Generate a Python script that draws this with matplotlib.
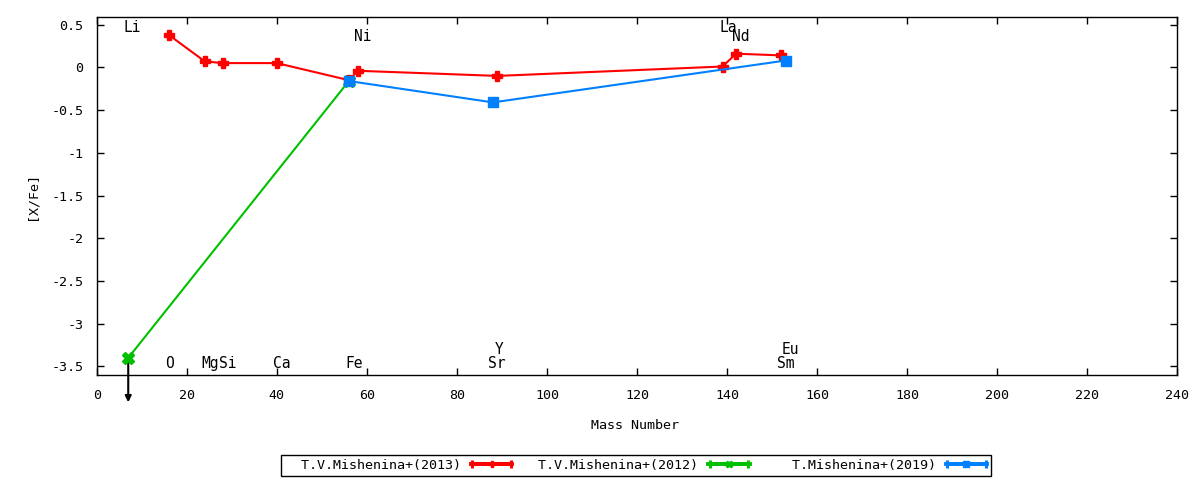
import numpy as np
import matplotlib
matplotlib.use("Agg")
import matplotlib.pyplot as plt
from matplotlib.ticker import MultipleLocator, FormatStrFormatter
from matplotlib.legend_handler import HandlerErrorbar

plt.rcParams['font.family'] = ['DejaVu Sans Mono']
plt.rcParams['font.size'] = 9.6
plt.rcParams['axes.unicode_minus'] = False

# T.V.Mishenina+(2013)
red_mass = [16, 24, 28, 40, 56, 58, 89, 139, 142, 152]
red_xfe = [0.38, 0.07, 0.05, 0.05, -0.15, -0.04, -0.10, 0.01, 0.16, 0.14]

# T.V.Mishenina+(2012)  (Li is an upper limit)
green_mass = [7, 56]
green_xfe = [-3.40, -0.16]

# T.Mishenina+(2019)
blue_mass = [56, 88, 153]
blue_xfe = [-0.16, -0.41, 0.08]

# element labels
elem_names = ['Li', 'O', 'Mg', 'Si', 'Ca', 'Fe', 'Ni', 'Sr', 'Y', 'La', 'Nd', 'Sm', 'Eu']
elem_x = [8.0, 16.1, 25.2, 29.0, 41.1, 57.2, 59.0, 88.8, 89.4, 140.2, 143.1, 153.1, 154.0]
elem_y = [0.47, -3.46, -3.46, -3.46, -3.46, -3.46, 0.36, -3.46, -3.30, 0.47, 0.36, -3.46, -3.30]

series_names = ['T.V.Mishenina+(2013)', 'T.V.Mishenina+(2012)', 'T.Mishenina+(2019)']

RED = '#ff0000'
GREEN = '#00c000'
BLUE = '#0080ff'

fig = plt.figure(figsize=(12, 4.8), dpi=100)
ax = fig.add_axes([0.0806, 0.2188, 0.9005, 0.745])

ax.plot(red_mass, red_xfe, color=RED, lw=1.5, marker='P', ms=7, zorder=3)
ax.plot(green_mass, green_xfe, color=GREEN, lw=1.5, marker='X', ms=8, zorder=2)
ax.plot(blue_mass, blue_xfe, color=BLUE, lw=1.5, marker='s', ms=7, zorder=4)

# upper limit arrow for Li
ax.annotate('', xy=(green_mass[0], green_xfe[0] - 0.52), xytext=(green_mass[0], green_xfe[0]),
            arrowprops=dict(arrowstyle='-|>', color='black', lw=1.5, mutation_scale=9,
                            shrinkA=0, shrinkB=0),
            annotation_clip=False, zorder=1)

for name, x, y in zip(elem_names, elem_x, elem_y):
    ax.text(x, y, name, ha='center', va='center', fontsize=10.5)

ax.set_xlim(0, 240)
ax.set_ylim(-3.6, 0.585)
ax.xaxis.set_major_locator(MultipleLocator(20))
ax.yaxis.set_major_locator(MultipleLocator(0.5))
ax.yaxis.set_major_formatter(FormatStrFormatter('%g'))
ax.tick_params(direction='in', top=True, right=True, length=5, width=1)
ax.tick_params(axis='x', pad=10)
ax.tick_params(axis='y', pad=9.5)
for s in ax.spines.values():
    s.set_linewidth(1)

ax.set_xlabel('Mass Number', va='center')
ax.xaxis.set_label_coords(0.498, -0.14)
ax.set_ylabel('[X/Fe]', va='center')
ax.yaxis.set_label_coords(-0.06, 0.5)

# legend samples in gnuplot errorbar key style
kw = dict(lw=2.8, ms=5, capsize=2.9, elinewidth=2.8, capthick=2.2)
h1 = ax.errorbar([np.nan], [np.nan], xerr=[0], color=RED, marker='P', **kw)
h2 = ax.errorbar([np.nan], [np.nan], xerr=[0], color=GREEN, marker='X', **kw)
h3 = ax.errorbar([np.nan], [np.nan], xerr=[0], color=BLUE, marker='s', **kw)
width = max(len(s) for s in series_names) + 2
labels = [s.rjust(width) for s in series_names]
leg = fig.legend([h1, h2, h3], labels,
                 loc='center', bbox_to_anchor=(0.53, 0.031), ncol=3, markerfirst=False,
                 frameon=True, fancybox=False, edgecolor='black', framealpha=1,
                 handlelength=3.1, columnspacing=0.75, borderpad=0.3, handletextpad=0.75,
                 handler_map={type(h1): HandlerErrorbar(xerr_size=1.45)})
leg.get_frame().set_linewidth(1)

plt.savefig('out.png', dpi=100)
